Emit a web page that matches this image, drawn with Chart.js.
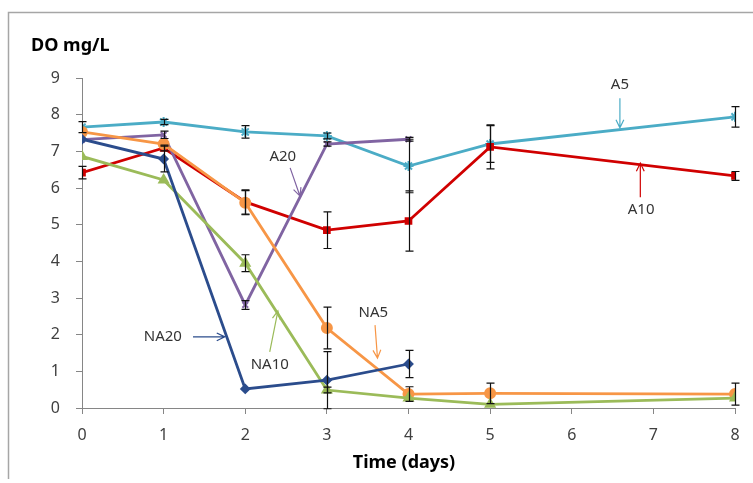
<!DOCTYPE html>
<html>
<head>
<meta charset="utf-8">
<script src="https://cdn.jsdelivr.net/npm/chart.js@4.4.1/dist/chart.umd.min.js"></script>
<style>
  html, body { margin: 0; padding: 0; background: #fff; }
  #wrap { width: 753px; height: 483px; position: relative; }
</style>
</head>
<body>
<div id="wrap"><canvas id="chart"></canvas></div>
<script>
// days sampled (no samples at 6 and 7)
const days = [0, 1, 2, 3, 4, 5, 8];
const xTicks = [0, 1, 2, 3, 4, 5, 6, 7, 8];

// DO values (mg/L)
const a5   = [7.66, 7.80, 7.53, 7.42, 6.60, 7.20, 7.94];
const a10  = [6.42, 7.09, 5.62, 4.85, 5.10, 7.12, 6.33];
const a20  = [7.32, 7.45, 2.81, 7.20, 7.33];
const na5  = [7.53, 7.20, 5.60, 2.18, 0.38, 0.40, 0.38];
const na10 = [6.86, 6.22, 3.95, 0.49, 0.27, 0.10, 0.27];
const na20 = [7.33, 6.79, 0.52, 0.76, 1.20];

// +/- error bars (null where none is visible)
const a5Err   = [0.15, 0.07, 0.17, 0.08, 0.73, 0.50, 0.28];
const a10Err  = [0.17, 0.08, 0.33, 0.50, 0.82, 0.60, 0.12];
const a20Err  = [null, 0.10, 0.12, 0.06, 0.05];
const na5Err  = [null, null, 0.33, 0.57, 0.20, 0.28, 0.30];
const na10Err = [null, null, 0.23, 0.08, null, null, null];
const na20Err = [null, 0.35, null, 0.78, 0.37];

// call-out labels: [text, label x, label y, arrow from x,y, arrow to x,y] in data units
const callouts = [
  ['A20',  2.46, 6.85, 2.55, 6.55, 2.67, 5.78, '#8064A2'],
  ['NA20', 0.99, 1.94, 1.36, 1.94, 1.75, 1.94, '#2B4C8C'],
  ['NA10', 2.30, 1.17, 2.30, 1.53, 2.40, 2.65, '#9BBB59'],
  ['NA5',  3.57, 2.59, 3.59, 2.26, 3.62, 1.36, '#F79646'],
  ['A5',   6.59, 8.81, 6.59, 8.45, 6.59, 7.64, '#4BACC6'],
  ['A10',  6.85, 5.40, 6.84, 5.75, 6.84, 6.68, '#D00000']
];

function pts(vals) {
  return vals.map((v, i) => ({ x: days[i], y: v }));
}

function series(label, vals, errs, color, style, radius) {
  return {
    label: label,
    data: pts(vals),
    errors: errs,
    borderColor: color,
    backgroundColor: color,
    pointBorderColor: color,
    pointBackgroundColor: color,
    pointStyle: style,
    pointRadius: radius,
    pointBorderWidth: 2,
    borderWidth: 2.8,
    tension: 0
  };
}

const errorBars = {
  id: 'errorBars',
  afterDatasetsDraw(chart) {
    const ctx = chart.ctx;
    const ys = chart.scales.y, xs = chart.scales.x;
    ctx.save();
    ctx.strokeStyle = '#111';
    ctx.lineWidth = 1.2;
    chart.data.datasets.forEach(ds => {
      ds.data.forEach((p, i) => {
        const e = ds.errors[i];
        if (e == null) return;
        const px = Math.round(xs.getPixelForValue(p.x)) + 0.5;
        const top = ys.getPixelForValue(p.y + e);
        const bot = ys.getPixelForValue(p.y - e);
        ctx.beginPath();
        ctx.moveTo(px, top); ctx.lineTo(px, bot);
        ctx.moveTo(px - 4, top); ctx.lineTo(px + 4, top);
        ctx.moveTo(px - 4, bot); ctx.lineTo(px + 4, bot);
        ctx.stroke();
      });
    });
    ctx.restore();
  }
};

const decorations = {
  id: 'decorations',
  afterDraw(chart) {
    const ctx = chart.ctx;
    const xs = chart.scales.x, ys = chart.scales.y;
    ctx.save();
    // outer frame
    ctx.strokeStyle = '#a6a6a6';
    ctx.lineWidth = 1.5;
    ctx.beginPath();
    ctx.moveTo(8.5, 479); ctx.lineTo(8.5, 12.5); ctx.lineTo(753, 12.5);
    ctx.stroke();
    // axis titles
    ctx.fillStyle = '#000';
    ctx.font = 'bold 18px "Noto Sans"';
    ctx.textBaseline = 'middle';
    ctx.textAlign = 'left';
    ctx.fillText('DO mg/L', 31, 46);
    ctx.textAlign = 'center';
    ctx.fillText('Time (days)', 404, 463);
    // call-outs
    ctx.font = '15px "Noto Sans"';
    callouts.forEach(c => {
      const [txt, lx, ly, fx, fy, tx, ty, col] = c;
      ctx.fillStyle = '#333';
      ctx.fillText(txt, xs.getPixelForValue(lx), ys.getPixelForValue(ly));
      const x1 = xs.getPixelForValue(fx), y1 = ys.getPixelForValue(fy);
      const x2 = xs.getPixelForValue(tx), y2 = ys.getPixelForValue(ty);
      const ang = Math.atan2(y2 - y1, x2 - x1);
      ctx.strokeStyle = col;
      ctx.lineWidth = 1.2;
      ctx.beginPath();
      ctx.moveTo(x1, y1); ctx.lineTo(x2, y2);
      ctx.moveTo(x2 - 9 * Math.cos(ang - 0.45), y2 - 9 * Math.sin(ang - 0.45));
      ctx.lineTo(x2, y2);
      ctx.lineTo(x2 - 9 * Math.cos(ang + 0.45), y2 - 9 * Math.sin(ang + 0.45));
      ctx.stroke();
    });
    ctx.restore();
  }
};

new Chart(document.getElementById('chart'), {
  type: 'line',
  data: {
    datasets: [
      series('NA20', na20, na20Err, '#2B4C8C', 'rectRot', 4),
      series('NA10', na10, na10Err, '#9BBB59', 'triangle', 5),
      series('NA5',  na5,  na5Err,  '#F79646', 'circle', 5),
      series('A20',  a20,  a20Err,  '#8064A2', 'crossRot', 4),
      series('A10',  a10,  a10Err,  '#D00000', 'rect', 4),
      series('A5',   a5,   a5Err,   '#4BACC6', 'star', 5)
    ]
  },
  options: {
    responsive: true,
    maintainAspectRatio: false,
    animation: false,
    layout: { padding: { top: 78, right: 18, left: 0, bottom: 0 } },
    plugins: {
      legend: { display: false },
      tooltip: { enabled: false }
    },
    scales: {
      x: {
        type: 'linear',
        min: 0, max: 8,
        afterBuildTicks(scale) { scale.ticks = xTicks.map(v => ({ value: v })); },
        afterFit(scale) { scale.height = 75; },
        grid: { drawOnChartArea: false, drawTicks: true, tickLength: 6, color: '#868686' },
        border: { color: '#868686', width: 1 },
        ticks: { color: '#404040', font: { family: 'Noto Sans', size: 16 }, padding: 12, maxRotation: 0 }
      },
      y: {
        min: 0, max: 9,
        afterFit(scale) { scale.width = 82; },
        grid: { drawOnChartArea: false, drawTicks: true, tickLength: 6, color: '#868686' },
        border: { color: '#868686', width: 1 },
        ticks: { stepSize: 1, color: '#404040', font: { family: 'Noto Sans', size: 16 }, padding: 16 }
      }
    }
  },
  plugins: [errorBars, decorations]
});
</script>
</body>
</html>
